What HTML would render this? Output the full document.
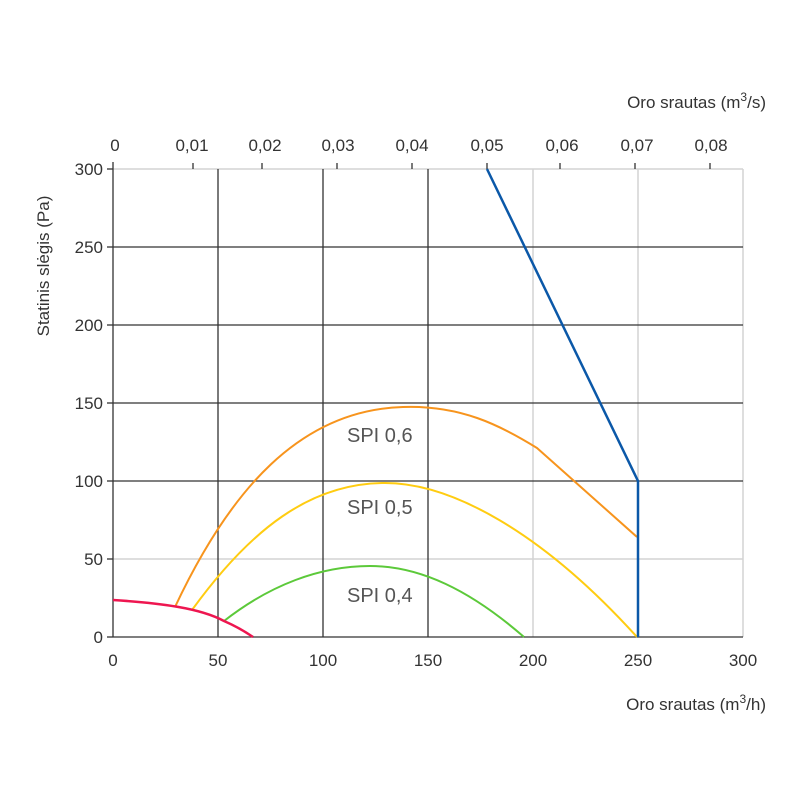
<!DOCTYPE html>
<html><head><meta charset="utf-8"><style>
body{margin:0;background:#fff}
svg{display:block;font-family:"Liberation Sans",sans-serif}
</style></head><body>
<svg width="800" height="800" viewBox="0 0 800 800">
<g stroke="#d4d4d4" stroke-width="1.5" fill="none">
<line x1="113" y1="169" x2="743" y2="169"/>
<line x1="113" y1="559" x2="743" y2="559"/>
<line x1="533" y1="169" x2="533" y2="637"/>
<line x1="638" y1="169" x2="638" y2="637"/>
<line x1="743" y1="169" x2="743" y2="637"/>
</g>
<g stroke="#333" stroke-width="1.3" fill="none">
<line x1="113" y1="247" x2="743" y2="247"/>
<line x1="113" y1="325" x2="743" y2="325"/>
<line x1="113" y1="403" x2="743" y2="403"/>
<line x1="113" y1="481" x2="743" y2="481"/>
<line x1="113" y1="637" x2="743" y2="637"/>
<line x1="113" y1="162" x2="113" y2="637"/>
<line x1="218" y1="169" x2="218" y2="637"/>
<line x1="323" y1="169" x2="323" y2="637"/>
<line x1="428" y1="169" x2="428" y2="637"/>
<line x1="193" y1="163" x2="193" y2="169"/>
<line x1="262" y1="163" x2="262" y2="169"/>
<line x1="337" y1="163" x2="337" y2="169"/>
<line x1="412" y1="163" x2="412" y2="169"/>
<line x1="487" y1="163" x2="487" y2="169"/>
<line x1="560" y1="163" x2="560" y2="169"/>
<line x1="635" y1="163" x2="635" y2="169"/>
<line x1="710" y1="163" x2="710" y2="169"/>
<line x1="107" y1="169" x2="113" y2="169"/><line x1="107" y1="247" x2="113" y2="247"/><line x1="107" y1="325" x2="113" y2="325"/><line x1="107" y1="403" x2="113" y2="403"/><line x1="107" y1="481" x2="113" y2="481"/><line x1="107" y1="559" x2="113" y2="559"/><line x1="107" y1="637" x2="113" y2="637"/>
</g>
<g fill="none" stroke-width="2" stroke-linejoin="round">
<path stroke="#f7941d" d="M175,607 C230,490 300,410 403,407 C460,405 500,425 537,448 L637,537"/>
<path stroke="#ffcc11" d="M192,610 C250,530 310,483 385,483 C450,483 540,530 637,637"/>
<path stroke="#5cc93a" d="M224,621 C270,585 320,566 370,566 C420,566 470,590 524,637"/>
<path stroke="#ee1650" stroke-width="2.5" d="M113,600 C160,603 200,608 224,621 Q240,628 253,637"/>
<polyline stroke="#0b58a8" stroke-width="2.5" points="487,169 638,481 638,637"/>
</g>
<g fill="#555" font-size="20">
<text x="347" y="442">SPI 0,6</text>
<text x="347" y="514">SPI 0,5</text>
<text x="347" y="602">SPI 0,4</text>
</g>
<g fill="#333" font-size="17" text-anchor="middle">
<text x="115" y="151">0</text><text x="192" y="151">0,01</text><text x="265" y="151">0,02</text><text x="338" y="151">0,03</text><text x="412" y="151">0,04</text><text x="487" y="151">0,05</text><text x="562" y="151">0,06</text><text x="637" y="151">0,07</text><text x="711" y="151">0,08</text>
<text x="113" y="666">0</text><text x="218" y="666">50</text><text x="323" y="666">100</text><text x="428" y="666">150</text><text x="533" y="666">200</text><text x="638" y="666">250</text><text x="743" y="666">300</text>
</g>
<g fill="#333" font-size="17" text-anchor="end">
<text x="103" y="175">300</text><text x="103" y="253">250</text><text x="103" y="331">200</text><text x="103" y="409">150</text><text x="103" y="487">100</text><text x="103" y="565">50</text><text x="103" y="643">0</text>
<text x="766" y="108">Oro srautas (m<tspan font-size="12" dy="-7">3</tspan><tspan dy="7">/s)</tspan></text>
<text x="766" y="710">Oro srautas (m<tspan font-size="12" dy="-7">3</tspan><tspan dy="7">/h)</tspan></text>
</g>
<text transform="translate(49,266) rotate(-90)" fill="#333" font-size="17" text-anchor="middle">Statinis slėgis (Pa)</text>
</svg>
</body></html>
